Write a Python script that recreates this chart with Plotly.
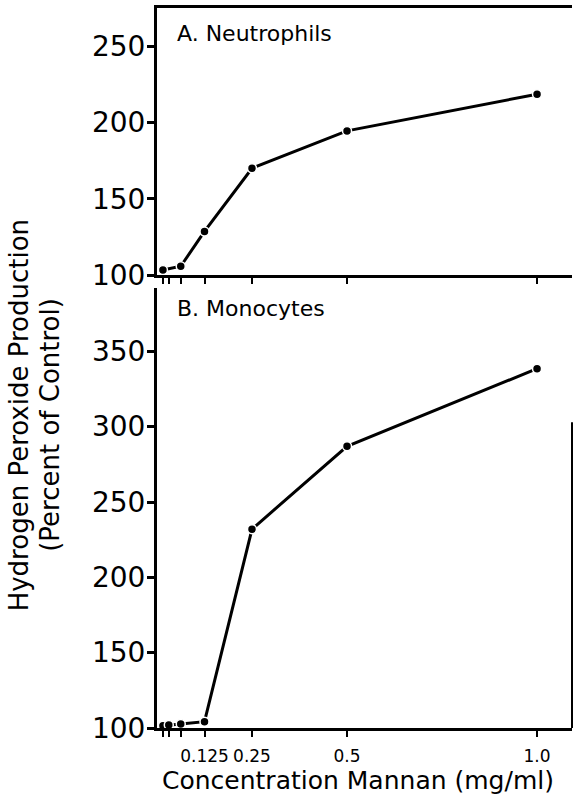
import plotly.graph_objects as go

# concentracoes de mannan (mg/ml) e producao de H2O2 (% do controle)
conc_neutrofilos = [0.0156, 0.0625, 0.125, 0.25, 0.5, 1.0]
h2o2_neutrofilos = [103.4, 105.8, 128.6, 170, 194.5, 218.5]

conc_monocitos = [0.0156, 0.031, 0.0625, 0.125, 0.25, 0.5, 1.0]
h2o2_monocitos = [101.5, 102, 102.7, 104.2, 232, 287, 338.5]

x_ticks = [0.0156, 0.031, 0.0625, 0.125, 0.25, 0.5, 1.0]
x_labels = ["", "", "", "0.125", "0.25", "0.5", "1.0"]

y_ticks_a = [100, 150, 200, 250]
y_ticks_b = [100, 150, 200, 250, 300, 350]

FONTE = "DejaVu Sans"
PRETO = "black"

fig = go.Figure()

estilo_linha = dict(color=PRETO, width=3)
estilo_marker = dict(color=PRETO, size=9, line=dict(color="white", width=1.5))

fig.add_trace(go.Scatter(
    x=conc_neutrofilos, y=h2o2_neutrofilos,
    mode="lines+markers", line=estilo_linha, marker=estilo_marker,
    xaxis="x", yaxis="y", cliponaxis=False, showlegend=False
))
fig.add_trace(go.Scatter(
    x=conc_monocitos, y=h2o2_monocitos,
    mode="lines+markers", line=estilo_linha, marker=estilo_marker,
    xaxis="x2", yaxis="y2", cliponaxis=False, showlegend=False
))

eixo_x = dict(
    range=[0, 1.092], tickvals=x_ticks, ticks="outside", ticklen=6,
    tickwidth=2, tickcolor=PRETO, showline=True, linewidth=3,
    linecolor=PRETO, showgrid=False, zeroline=False,
)
eixo_y = dict(
    ticks="outside", ticklen=7, tickwidth=3, tickcolor=PRETO,
    showline=True, linewidth=3, linecolor=PRETO, showgrid=False,
    zeroline=False, ticklabelstandoff=-4,
    tickfont=dict(size=28, color=PRETO, family=FONTE),
)

fig.update_layout(
    width=573, height=796,
    margin=dict(l=157, r=1, t=8, b=68),
    plot_bgcolor="white", paper_bgcolor="white",
    font=dict(family=FONTE, color=PRETO),
    xaxis=dict(eixo_x, anchor="y", domain=[0, 1], mirror=True,
               showticklabels=False),
    yaxis=dict(eixo_y, anchor="x", domain=[0.629, 1], range=[100, 275],
               tickvals=y_ticks_a),
    xaxis2=dict(eixo_x, anchor="y2", domain=[0, 1], ticktext=x_labels,
                ticklabelstandoff=5,
                tickfont=dict(size=17, color=PRETO, family=FONTE)),
    yaxis2=dict(eixo_y, anchor="x2", domain=[0, 0.611], range=[100, 392],
                tickvals=y_ticks_b),
)

# borda direita parcial do painel B
fig.add_shape(type="line", xref="x2 domain", yref="y2",
              x0=1, x1=1, y0=100, y1=303,
              line=dict(color=PRETO, width=2))

fig.add_annotation(text="A. Neutrophils", xref="paper", yref="paper",
                   x=0.043, y=0.964, xanchor="left", yanchor="middle",
                   showarrow=False, font=dict(size=22))
fig.add_annotation(text="B. Monocytes", xref="paper", yref="paper",
                   x=0.043, y=0.583, xanchor="left", yanchor="middle",
                   showarrow=False, font=dict(size=22))

# titulo do eixo y em duas linhas
fig.add_annotation(text="Hydrogen Peroxide Production",
                   xref="paper", yref="paper", x=-0.333, y=0.434,
                   xanchor="center", yanchor="middle", textangle=-90,
                   showarrow=False, font=dict(size=26))
fig.add_annotation(text="(Percent of Control)",
                   xref="paper", yref="paper", x=-0.258, y=0.421,
                   xanchor="center", yanchor="middle", textangle=-90,
                   showarrow=False, font=dict(size=26))

fig.add_annotation(text="Concentration Mannan (mg/ml)",
                   xref="paper", yref="paper", x=0.484, y=-0.073,
                   xanchor="center", yanchor="middle",
                   showarrow=False, font=dict(size=25))

# tira a margem padrao do body para a figura ocupar a janela toda
fig.write_html("out.html", config={"displayModeBar": False},
               post_script="document.body.style.margin='0';")
